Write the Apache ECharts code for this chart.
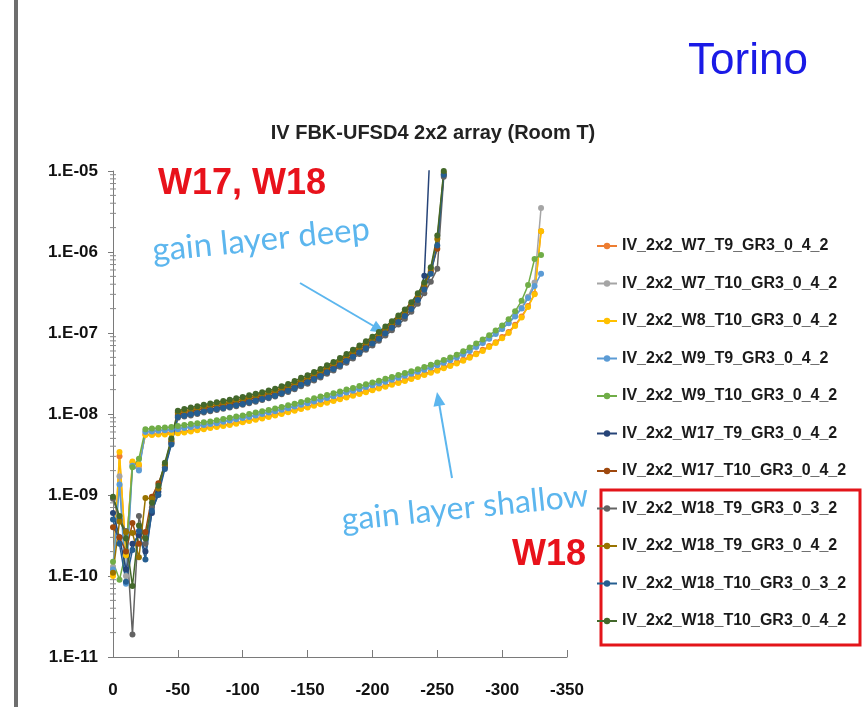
<!DOCTYPE html>
<html>
<head>
<meta charset="utf-8">
<title>IV FBK-UFSD4 2x2 array (Room T)</title>
<script src="https://cdn.jsdelivr.net/npm/echarts@6/dist/echarts.min.js"></script>
<style>
  html, body { margin: 0; padding: 0; background: #ffffff; }
  #chart { width: 863px; height: 707px; }
</style>
</head>
<body>
<div id="chart"></div>
<script>
// Bias voltage steps (V)
const deepV = [0,-5,-10,-15,-20,-25,-30,-35,-40,-45,-50,-55,-60,-65,-70,-75,-80,-85,-90,-95,
  -100,-105,-110,-115,-120,-125,-130,-135,-140,-145,-150,-155,-160,-165,-170,-175,-180,-185,-190,-195,
  -200,-205,-210,-215,-220,-225,-230,-235,-240,-245,-250,-255];
const shallowV = [0,-5,-10,-15,-20,-25,-30,-35,-40,-45,-50,-55,-60,-65,-70,-75,-80,-85,-90,-95,
  -100,-105,-110,-115,-120,-125,-130,-135,-140,-145,-150,-155,-160,-165,-170,-175,-180,-185,-190,-195,
  -200,-205,-210,-215,-220,-225,-230,-235,-240,-245,-250,-255,-260,-265,-270,-275,-280,-285,-290,-295,
  -300,-305,-310,-315,-320,-325,-330];

// Leakage current (A), shallow gain layer wafers
const iW7T9 = [1.1e-10,3.0e-9,1.9e-10,2.5e-9,2.3e-9,5.6e-9,5.6e-9,5.7e-9,5.8e-9,5.9e-9,
  6.0e-9,6.1e-9,6.3e-9,6.5e-9,6.7e-9,6.9e-9,7.1e-9,7.3e-9,7.5e-9,7.8e-9,
  8.1e-9,8.4e-9,8.7e-9,9.1e-9,9.5e-9,9.9e-9,1.03e-8,1.08e-8,1.13e-8,1.18e-8,
  1.24e-8,1.3e-8,1.36e-8,1.42e-8,1.49e-8,1.57e-8,1.65e-8,1.73e-8,1.82e-8,1.92e-8,
  2.02e-8,2.12e-8,2.24e-8,2.36e-8,2.49e-8,2.63e-8,2.78e-8,2.95e-8,3.12e-8,3.32e-8,
  3.53e-8,3.77e-8,4.04e-8,4.33e-8,4.69e-8,5.1e-8,5.6e-8,6.2e-8,6.9e-8,7.7e-8,
  8.9e-8,1.03e-7,1.26e-7,1.6e-7,2.15e-7,3.05e-7,1.8e-6];
const iW7T10 = [1.3e-10,1.7e-9,1.0e-10,2.3e-9,2.1e-9,6.1e-9,6.2e-9,6.3e-9,6.4e-9,6.5e-9,
  6.6e-9,6.8e-9,7.0e-9,7.2e-9,7.4e-9,7.6e-9,7.9e-9,8.2e-9,8.5e-9,8.8e-9,
  9.1e-9,9.4e-9,9.8e-9,1.02e-8,1.06e-8,1.1e-8,1.15e-8,1.2e-8,1.26e-8,1.32e-8,
  1.39e-8,1.46e-8,1.53e-8,1.61e-8,1.69e-8,1.78e-8,1.88e-8,1.98e-8,2.08e-8,2.19e-8,
  2.3e-8,2.43e-8,2.56e-8,2.7e-8,2.85e-8,3.02e-8,3.19e-8,3.38e-8,3.59e-8,3.82e-8,
  4.08e-8,4.38e-8,4.7e-8,5.1e-8,5.55e-8,6.1e-8,6.8e-8,7.6e-8,8.6e-8,9.9e-8,
  1.14e-7,1.35e-7,1.63e-7,2.05e-7,2.8e-7,4.2e-7,3.5e-6];
const iW8T10 = [1.0e-10,3.4e-9,1.8e-10,2.6e-9,2.4e-9,5.5e-9,5.5e-9,5.6e-9,5.6e-9,5.7e-9,
  5.8e-9,5.9e-9,6.1e-9,6.3e-9,6.5e-9,6.7e-9,6.9e-9,7.1e-9,7.3e-9,7.6e-9,
  7.9e-9,8.2e-9,8.5e-9,8.8e-9,9.2e-9,9.6e-9,1.0e-8,1.05e-8,1.1e-8,1.15e-8,
  1.2e-8,1.26e-8,1.32e-8,1.38e-8,1.45e-8,1.52e-8,1.6e-8,1.68e-8,1.77e-8,1.86e-8,
  1.96e-8,2.06e-8,2.17e-8,2.29e-8,2.42e-8,2.56e-8,2.7e-8,2.86e-8,3.03e-8,3.22e-8,
  3.43e-8,3.66e-8,3.92e-8,4.2e-8,4.55e-8,4.95e-8,5.45e-8,6.0e-8,6.7e-8,7.5e-8,
  8.6e-8,1.0e-7,1.22e-7,1.55e-7,2.1e-7,3.0e-7,1.8e-6];
const iW9T9 = [1.2e-10,1.35e-9,8.0e-11,2.3e-9,2.0e-9,6.0e-9,6.1e-9,6.2e-9,6.3e-9,6.4e-9,
  6.5e-9,6.7e-9,6.9e-9,7.1e-9,7.3e-9,7.5e-9,7.7e-9,8.0e-9,8.3e-9,8.6e-9,
  8.9e-9,9.2e-9,9.6e-9,1.0e-8,1.04e-8,1.08e-8,1.13e-8,1.18e-8,1.24e-8,1.3e-8,
  1.36e-8,1.43e-8,1.5e-8,1.58e-8,1.66e-8,1.75e-8,1.84e-8,1.94e-8,2.04e-8,2.15e-8,
  2.26e-8,2.38e-8,2.51e-8,2.65e-8,2.8e-8,2.96e-8,3.13e-8,3.32e-8,3.52e-8,3.75e-8,
  4.0e-8,4.3e-8,4.62e-8,5.0e-8,5.45e-8,6.0e-8,6.7e-8,7.5e-8,8.5e-8,9.7e-8,
  1.12e-7,1.32e-7,1.6e-7,2.0e-7,2.7e-7,3.8e-7,5.4e-7];
const iW9T10 = [1.5e-10,9.0e-11,2.0e-10,2.2e-9,2.8e-9,6.5e-9,6.6e-9,6.7e-9,6.8e-9,6.9e-9,
  7.1e-9,7.3e-9,7.5e-9,7.7e-9,7.9e-9,8.1e-9,8.4e-9,8.7e-9,9.0e-9,9.3e-9,
  9.6e-9,1.0e-8,1.04e-8,1.08e-8,1.12e-8,1.17e-8,1.22e-8,1.28e-8,1.34e-8,1.41e-8,
  1.48e-8,1.56e-8,1.64e-8,1.72e-8,1.81e-8,1.9e-8,2.0e-8,2.1e-8,2.21e-8,2.33e-8,
  2.45e-8,2.58e-8,2.72e-8,2.87e-8,3.03e-8,3.2e-8,3.38e-8,3.58e-8,3.8e-8,4.05e-8,
  4.33e-8,4.65e-8,5.0e-8,5.4e-8,5.95e-8,6.6e-8,7.4e-8,8.3e-8,9.4e-8,1.07e-7,
  1.24e-7,1.48e-7,1.85e-7,2.5e-7,3.9e-7,8.2e-7,9.2e-7];

// Leakage current (A), deep gain layer wafers
const iW17T9 = [6.0e-10,3.0e-10,1.2e-10,2.5e-10,3.2e-10,2.0e-10,6.0e-10,1.1e-9,2.2e-9,4.4e-9,
  9.5e-9,9.8e-9,1.02e-8,1.06e-8,1.1e-8,1.15e-8,1.19e-8,1.23e-8,1.28e-8,1.33e-8,
  1.38e-8,1.45e-8,1.51e-8,1.58e-8,1.66e-8,1.74e-8,1.87e-8,2.0e-8,2.17e-8,2.38e-8,
  2.55e-8,2.8e-8,3.06e-8,3.4e-8,3.74e-8,4.16e-8,4.68e-8,5.3e-8,5.95e-8,6.7e-8,
  7.7e-8,8.9e-8,1.04e-7,1.22e-7,1.45e-7,1.75e-7,2.15e-7,2.6e-7,5.1e-7,3.0e-5];
const iW17T10 = [4.0e-10,3.0e-10,2.0e-10,4.5e-10,2.5e-10,3.5e-10,9.5e-10,1.4e-9,2.3e-9,4.6e-9,
  1.0e-8,1.04e-8,1.08e-8,1.13e-8,1.17e-8,1.22e-8,1.26e-8,1.31e-8,1.36e-8,1.41e-8,
  1.46e-8,1.53e-8,1.6e-8,1.68e-8,1.76e-8,1.85e-8,1.98e-8,2.12e-8,2.3e-8,2.52e-8,
  2.7e-8,2.97e-8,3.24e-8,3.6e-8,3.96e-8,4.4e-8,4.95e-8,5.6e-8,6.3e-8,7.1e-8,
  8.1e-8,9.3e-8,1.08e-7,1.26e-7,1.49e-7,1.76e-7,2.16e-7,2.8e-7,3.8e-7,5.8e-7,
  1.1e-6,9.0e-6];
const iW18T9a = [9.0e-10,5.0e-10,3.6e-10,1.9e-11,5.5e-10,2.5e-10,7.0e-10,1.2e-9,2.3e-9,4.4e-9,
  9.0e-9,9.3e-9,9.6e-9,1.0e-8,1.04e-8,1.08e-8,1.12e-8,1.16e-8,1.2e-8,1.25e-8,
  1.3e-8,1.36e-8,1.42e-8,1.49e-8,1.56e-8,1.64e-8,1.75e-8,1.87e-8,2.02e-8,2.2e-8,
  2.36e-8,2.6e-8,2.83e-8,3.14e-8,3.45e-8,3.84e-8,4.3e-8,4.85e-8,5.5e-8,6.2e-8,
  7.0e-8,8.0e-8,9.3e-8,1.08e-7,1.27e-7,1.5e-7,1.83e-7,2.3e-7,3.1e-7,4.3e-7,
  6.2e-7,8.5e-6];
const iW18T9b = [1.1e-10,4.7e-10,3.5e-10,3.4e-10,1.7e-10,9.2e-10,9.0e-10,1.2e-9,2.4e-9,4.8e-9,
  1.05e-8,1.1e-8,1.14e-8,1.19e-8,1.24e-8,1.28e-8,1.33e-8,1.38e-8,1.43e-8,1.48e-8,
  1.54e-8,1.61e-8,1.69e-8,1.77e-8,1.85e-8,1.95e-8,2.08e-8,2.23e-8,2.42e-8,2.65e-8,
  2.85e-8,3.12e-8,3.4e-8,3.8e-8,4.2e-8,4.65e-8,5.2e-8,5.9e-8,6.6e-8,7.5e-8,
  8.5e-8,9.8e-8,1.14e-7,1.33e-7,1.57e-7,1.86e-7,2.3e-7,2.95e-7,4.0e-7,6.2e-7,
  1.45e-6,9.5e-6];
const iW18T10a = [5.0e-10,2.5e-10,8.5e-11,2.1e-10,3.6e-10,1.6e-10,6.4e-10,1.0e-9,2.1e-9,4.2e-9,
  9.2e-9,9.5e-9,9.9e-9,1.03e-8,1.07e-8,1.11e-8,1.15e-8,1.19e-8,1.23e-8,1.28e-8,
  1.33e-8,1.4e-8,1.46e-8,1.53e-8,1.6e-8,1.68e-8,1.8e-8,1.93e-8,2.09e-8,2.3e-8,
  2.46e-8,2.7e-8,2.95e-8,3.28e-8,3.6e-8,4.0e-8,4.5e-8,5.1e-8,5.75e-8,6.5e-8,
  7.4e-8,8.5e-8,9.9e-8,1.16e-7,1.37e-7,1.62e-7,1.98e-7,2.55e-7,3.45e-7,5.4e-7,
  1.2e-6,9.0e-6];
const iW18T10b = [9.5e-10,5.5e-10,2.9e-10,7.5e-11,4.2e-10,2.9e-10,8.0e-10,1.3e-9,2.5e-9,5.0e-9,
  1.1e-8,1.15e-8,1.2e-8,1.25e-8,1.3e-8,1.35e-8,1.4e-8,1.45e-8,1.5e-8,1.56e-8,
  1.62e-8,1.7e-8,1.78e-8,1.86e-8,1.95e-8,2.05e-8,2.2e-8,2.35e-8,2.55e-8,2.8e-8,
  3.0e-8,3.3e-8,3.6e-8,4.0e-8,4.4e-8,4.9e-8,5.5e-8,6.2e-8,7.0e-8,7.9e-8,
  9.0e-8,1.03e-7,1.2e-7,1.4e-7,1.65e-7,1.95e-7,2.4e-7,3.1e-7,4.2e-7,6.5e-7,
  1.6e-6,1.0e-5];

// Series names in legend order
const names = [
  'IV_2x2_W7_T9_GR3_0_4_2', 'IV_2x2_W7_T10_GR3_0_4_2', 'IV_2x2_W8_T10_GR3_0_4_2',
  'IV_2x2_W9_T9_GR3_0_4_2', 'IV_2x2_W9_T10_GR3_0_4_2', 'IV_2x2_W17_T9_GR3_0_4_2',
  'IV_2x2_W17_T10_GR3_0_4_2', 'IV_2x2_W18_T9_GR3_0_3_2', 'IV_2x2_W18_T9_GR3_0_4_2',
  'IV_2x2_W18_T10_GR3_0_3_2', 'IV_2x2_W18_T10_GR3_0_4_2'
];
const currents = [iW7T9, iW7T10, iW8T10, iW9T9, iW9T10, iW17T9, iW17T10, iW18T9a, iW18T9b, iW18T10a, iW18T10b];
const voltages = [shallowV, shallowV, shallowV, shallowV, shallowV, deepV, deepV, deepV, deepV, deepV, deepV];
const colors = ['#ED7D31', '#A5A5A5', '#FFC000', '#5B9BD5', '#70AD47', '#264478',
  '#9E480E', '#636363', '#997300', '#255E91', '#43682B'];

// Y-axis range in decades
const yMin = 1e-11, yMax = 1e-5;
const xTicks = { min: -350, max: 0, step: 50 };

const sans = '"Liberation Sans", Arial, sans-serif';

const lineSeries = names.map((name, i) => ({
  name: name,
  type: 'line',
  data: currents[i].map((v, k) => [voltages[i][k], v]),
  symbol: 'circle',
  symbolSize: 6,
  showAllSymbol: true,
  lineStyle: { width: 1.5, color: colors[i] },
  itemStyle: { color: colors[i] },
  emphasis: { disabled: true },
  clip: true,
  z: 3
}));

// Logarithmic minor ticks (2..9 per decade) on the current axis
const minorTicks = [];
for (let e = -11; e < -5; e++) {
  for (let m = 2; m <= 9; m++) minorTicks.push([0, m * Math.pow(10, e)]);
}
const minorTickSeries = {
  type: 'custom',
  silent: true,
  clip: false,
  data: minorTicks,
  renderItem: (params, api) => {
    const p = api.coord([0, api.value(1)]);
    return {
      type: 'line',
      shape: { x1: p[0] - 3, y1: p[1], x2: p[0] + 3, y2: p[1] },
      style: { stroke: '#8a8a8a', lineWidth: 1 }
    };
  },
  z: 2
};

function arrowHead(tip, from, len, half) {
  const dx = tip[0] - from[0], dy = tip[1] - from[1];
  const d = Math.hypot(dx, dy), ux = dx / d, uy = dy / d;
  const bx = tip[0] - ux * len, by = tip[1] - uy * len;
  return [tip, [bx - uy * half, by + ux * half], [bx + uy * half, by - ux * half]];
}

const blueHand = '#5cb6ee';
const chart = echarts.init(document.getElementById('chart'), null, { renderer: 'canvas' });
chart.setOption({
  backgroundColor: '#ffffff',
  animation: false,
  title: {
    text: 'IV FBK-UFSD4 2x2 array (Room T)',
    left: 428, top: 118, textAlign: 'center',
    textStyle: { fontFamily: sans, fontWeight: 'bold', fontSize: 20, color: '#222222' }
  },
  grid: { left: 113, top: 171, right: 296, bottom: 50, containLabel: false },
  xAxis: {
    type: 'value',
    min: xTicks.min, max: xTicks.max, interval: xTicks.step,
    inverse: true,
    axisLine: { lineStyle: { color: '#7a7a7a', width: 1 } },
    axisTick: { inside: true, length: 7, lineStyle: { color: '#7a7a7a' } },
    splitLine: { show: false },
    axisLabel: { margin: 25, fontFamily: sans, fontWeight: 'bold', fontSize: 17, color: '#111111' }
  },
  yAxis: {
    type: 'log', logBase: 10, min: yMin, max: yMax, splitNumber: 6,
    axisLine: { show: true, lineStyle: { color: '#7a7a7a', width: 1 } },
    axisTick: { show: true, length: 5, lineStyle: { color: '#7a7a7a' } },
    splitLine: { show: false },
    axisLabel: {
      margin: 15, fontFamily: sans, fontWeight: 'bold', fontSize: 17, color: '#111111',
      formatter: (v) => {
        const e = Math.round(Math.log10(v));
        return '1.E' + (e < 0 ? '-' : '+') + String(Math.abs(e)).padStart(2, '0');
      }
    }
  },
  legend: {
    data: names,
    orient: 'vertical',
    left: 591, top: 230,
    itemWidth: 20, itemHeight: 8,
    itemGap: 15.5,
    textStyle: { fontFamily: sans, fontWeight: 'bold', fontSize: 16, lineHeight: 22, color: '#1a1a1a' }
  },
  series: lineSeries.concat([minorTickSeries]),
  graphic: [
    { type: 'rect', shape: { x: 14, y: 0, width: 4, height: 707 }, style: { fill: '#6e6e6e' }, silent: true },
    { type: 'text', x: 748, y: 62, style: { text: 'Torino', fill: '#1a1ae6', font: '44px "Liberation Sans", Arial, sans-serif', align: 'center', verticalAlign: 'middle' } },
    { type: 'text', x: 242, y: 184, style: { text: 'W17, W18', fill: '#e8121b', font: 'bold 36px "Liberation Sans", Arial, sans-serif', align: 'center', verticalAlign: 'middle' } },
    { type: 'text', x: 549, y: 555, style: { text: 'W18', fill: '#e8121b', font: 'bold 36px "Liberation Sans", Arial, sans-serif', align: 'center', verticalAlign: 'middle' } },
    { type: 'rect', shape: { x: 601, y: 490, width: 259, height: 155 }, style: { fill: 'none', stroke: '#e3151a', lineWidth: 3 } },
    { type: 'text', x: 261, y: 240, rotation: 0.1, style: { text: 'gain layer deep', fill: blueHand, font: '33px Lato, "Noto Sans", sans-serif', align: 'center', verticalAlign: 'middle' } },
    { type: 'text', x: 465, y: 508, rotation: 0.1, style: { text: 'gain layer shallow', fill: blueHand, font: '32px Lato, "Noto Sans", sans-serif', align: 'center', verticalAlign: 'middle' } },
    { type: 'line', shape: { x1: 300, y1: 283, x2: 377, y2: 328 }, style: { stroke: blueHand, lineWidth: 2 } },
    { type: 'polygon', shape: { points: arrowHead([385, 333], [300, 283], 14, 6) }, style: { fill: blueHand } },
    { type: 'line', shape: { x1: 452, y1: 478, x2: 439, y2: 403 }, style: { stroke: blueHand, lineWidth: 2 } },
    { type: 'polygon', shape: { points: arrowHead([437, 392], [452, 478], 14, 6) }, style: { fill: blueHand } }
  ]
});
</script>
</body>
</html>
